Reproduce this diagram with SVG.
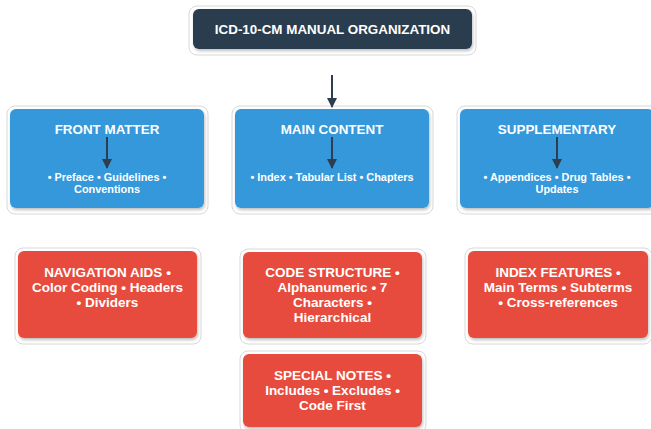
<svg xmlns="http://www.w3.org/2000/svg" width="651" height="429" viewBox="0 0 651 429">
<defs>
<style>
text{font-family:"Liberation Sans",Arial,sans-serif;font-weight:bold;fill:#fff;text-anchor:middle}
.t{font-size:13.4px}
.s{font-size:10.9px}
.r{font-size:13.5px}
.dark{fill:#2c3e50}
.blue{fill:#3498db}
.red{fill:#e74c3c}
.sh{fill:#fff;stroke:#d8d8d8;stroke-width:1}
.c{stroke:#2c3e50;stroke-width:2;fill:none;marker-end:url(#ah)}
</style>
<marker id="ah" viewBox="0 0 10 10" refX="9" refY="5" markerWidth="6" markerHeight="5" orient="auto" markerUnits="strokeWidth">
<path d="M0,0 L10,5 L0,10 z" fill="#2c3e50"/>
</marker>
<filter id="ds" x="-10%" y="-10%" width="125%" height="130%">
<feDropShadow dx="1" dy="2" stdDeviation="1.5" flood-color="#000" flood-opacity="0.25"/>
</filter>
</defs>
<rect width="651" height="429" fill="#fff"/>
<g id="title">
<rect class="sh" x="189" y="6" width="287" height="49" rx="8"/>
<rect class="dark" x="193" y="9" width="279" height="40" rx="6" filter="url(#ds)"/>
<text class="t" x="332.5" y="34">ICD-10-CM MANUAL ORGANIZATION</text>
</g>
<g id="front-matter">
<rect class="sh" x="7" y="106" width="201" height="108" rx="8"/>
<rect class="blue" x="10" y="109" width="194" height="99" rx="6" filter="url(#ds)"/>
<text class="t" x="107" y="134">FRONT MATTER</text>
<text class="s" x="107" y="181">• Preface • Guidelines •</text>
<text class="s" x="107" y="193">Conventions</text>
</g>
<g id="main-content">
<rect class="sh" x="232" y="106" width="201" height="108" rx="8"/>
<rect class="blue" x="235" y="109" width="194" height="99" rx="6" filter="url(#ds)"/>
<text class="t" x="332" y="134">MAIN CONTENT</text>
<text class="s" x="332" y="181">• Index • Tabular List • Chapters</text>
</g>
<g id="supplementary">
<rect class="sh" x="457" y="106" width="201" height="108" rx="8"/>
<rect class="blue" x="460" y="109" width="194" height="99" rx="6" filter="url(#ds)"/>
<text class="t" x="557" y="134">SUPPLEMENTARY</text>
<text class="s" x="557" y="181">• Appendices • Drug Tables •</text>
<text class="s" x="557" y="193">Updates</text>
</g>
<g id="navigation-aids">
<rect class="sh" x="15" y="248" width="186" height="96" rx="8"/>
<rect class="red" x="18" y="251" width="179" height="87" rx="6" filter="url(#ds)"/>
<text class="r" x="107.5" y="277">NAVIGATION AIDS •</text>
<text class="r" x="107.5" y="292">Color Coding • Headers</text>
<text class="r" x="107.5" y="307">• Dividers</text>
</g>
<g id="code-structure">
<rect class="sh" x="240" y="249" width="186" height="95" rx="8"/>
<rect class="red" x="243" y="252" width="179" height="86" rx="6" filter="url(#ds)"/>
<text class="r" x="332.5" y="277">CODE STRUCTURE •</text>
<text class="r" x="332.5" y="292">Alphanumeric • 7</text>
<text class="r" x="332.5" y="307">Characters •</text>
<text class="r" x="332.5" y="322">Hierarchical</text>
</g>
<g id="special-notes">
<rect class="sh" x="240" y="351" width="186" height="82" rx="8"/>
<rect class="red" x="243" y="354" width="179" height="73" rx="6" filter="url(#ds)"/>
<text class="r" x="332.5" y="380">SPECIAL NOTES •</text>
<text class="r" x="332.5" y="395">Includes • Excludes •</text>
<text class="r" x="332.5" y="410">Code First</text>
</g>
<g id="index-features">
<rect class="sh" x="465" y="248" width="187" height="96" rx="8"/>
<rect class="red" x="468" y="251" width="180" height="87" rx="6" filter="url(#ds)"/>
<text class="r" x="558" y="277">INDEX FEATURES •</text>
<text class="r" x="558" y="292">Main Terms • Subterms</text>
<text class="r" x="558" y="307">• Cross-references</text>
</g>
<g id="connectors">
<line class="c" x1="332" y1="75" x2="332" y2="107"/>
<line class="c" x1="107" y1="137" x2="107" y2="168"/>
<line class="c" x1="332" y1="137" x2="332" y2="168"/>
<line class="c" x1="557" y1="137" x2="557" y2="168"/>
</g>
</svg>
